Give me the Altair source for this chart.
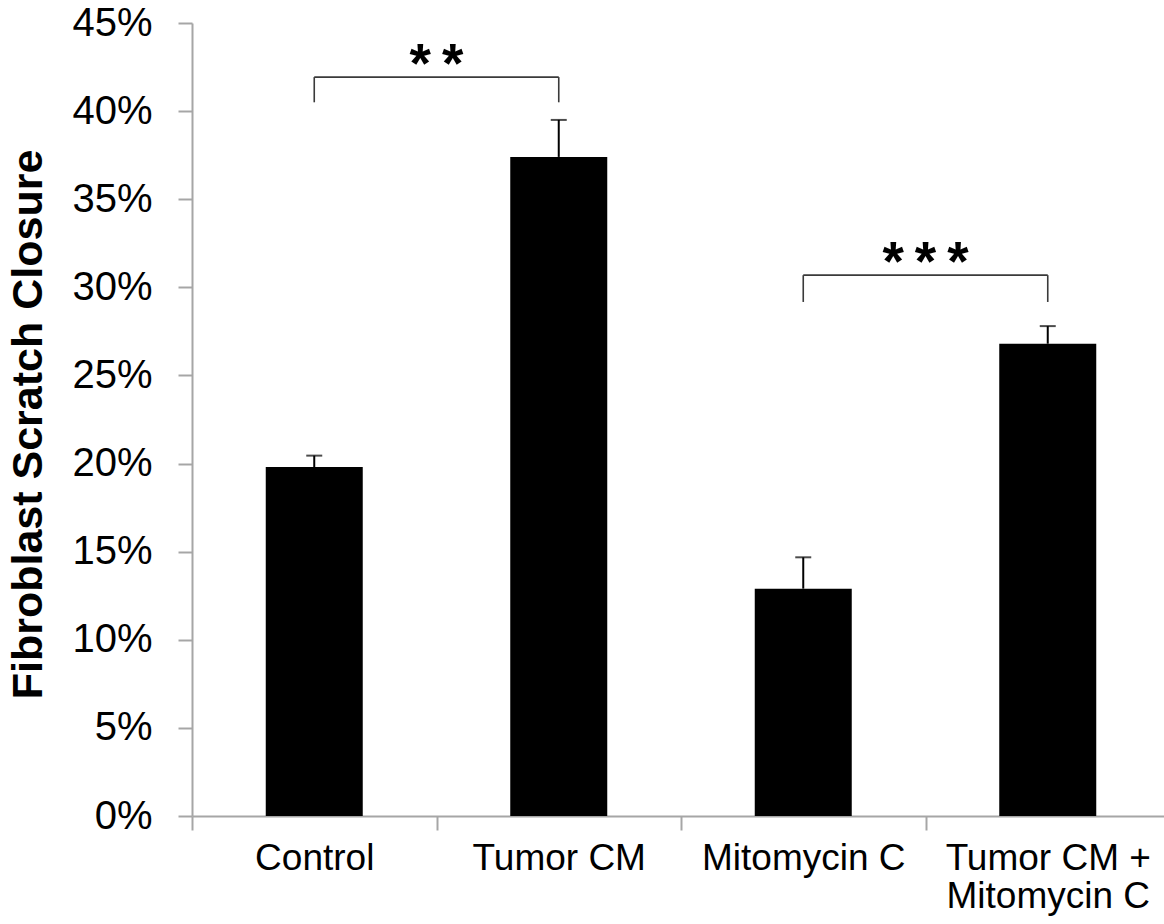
import altair as alt
import pandas as pd

# ---- data ----
categories = ["Control", "Tumor CM", "Mitomycin C", "Tumor CM +|Mitomycin C"]
means = [0.198, 0.374, 0.129, 0.268]
upper = [0.2045, 0.395, 0.1468, 0.278]

y_ticks = [0, 0.05, 0.10, 0.15, 0.20, 0.25, 0.30, 0.35, 0.40, 0.45]

sig_left = ["Control", "Mitomycin C"]
sig_right = ["Tumor CM", "Tumor CM +|Mitomycin C"]
sig_top = [0.4193, 0.3069]
sig_bottom = [0.405, 0.2917]
sig_stars = ["*\u2009*", "*\u2009*\u2009*"]
sig_star_y = [0.4163, 0.3039]

# ---- layout constants ----
X_RANGE = 978
step = X_RANGE / len(categories)
FONT = "Liberation Sans"
AXIS_GRAY = "#a6a6a6"

df = pd.DataFrame({"cat": categories, "mean": means, "upper": upper})
br = pd.DataFrame({"left": sig_left, "right": sig_right, "top": sig_top,
                   "bottom": sig_bottom, "stars": sig_stars, "sy": sig_star_y})
ends = pd.DataFrame({
    "xe": sig_left + sig_right,
    "top": sig_top + sig_top,
    "bottom": sig_bottom + sig_bottom,
})

xscale = alt.Scale(domain=categories, range=[0, X_RANGE], paddingInner=0, paddingOuter=0)
yscale = alt.Scale(domain=[0, 0.45], nice=False, zero=True)

x_axis = alt.Axis(
    title=None, labelExpr="datum.value ? split(datum.value, '|') : ''",
    tickBand="extent", labelAngle=0, labelLimit=400,
    labelFontSize=37, labelFont=FONT, labelColor="black", labelLineHeight=38,
    tickSize=14, tickColor=AXIS_GRAY, tickWidth=2, domainColor=AXIS_GRAY, domainWidth=2,
    labelPadding=10, grid=False,
)
y_axis = alt.Axis(
    values=y_ticks, format=".0%", grid=False,
    title="Fibroblast Scratch Closure", titleFont=FONT, titleFontSize=43, titleFontWeight="bold",
    titleColor="black", titleX=-164, titleY=401, titleAngle=-90, titleAlign="center",
    titleBaseline="middle",
    labelFont=FONT, labelFontSize=40, labelColor="black", labelPadding=26,
    tickSize=14, tickColor=AXIS_GRAY, tickWidth=2, domainColor=AXIS_GRAY, domainWidth=2,
)


def X(field):
    return alt.X(field, scale=xscale, axis=x_axis)


def Y(field):
    return alt.Y(field, scale=yscale, axis=y_axis)


bars = alt.Chart(df).mark_bar(color="black", size=97).encode(x=X("cat:N"), y=Y("mean:Q"))
err = alt.Chart(df).mark_rule(color="black", strokeWidth=2).encode(
    x=X("cat:N"), y=Y("mean:Q"), y2="upper:Q",
)
cap = alt.Chart(df).mark_tick(color="black", size=16, thickness=2).encode(
    x=X("cat:N"), y=Y("upper:Q"),
)
hbr = alt.Chart(br).mark_rule(color="#3a3a3a", strokeWidth=1.6).encode(
    x=X("left:N"), x2="right:N", y=Y("top:Q"),
)
vbr = alt.Chart(ends).mark_rule(color="#3a3a3a", strokeWidth=1.6).encode(
    x=X("xe:N"), y=Y("bottom:Q"), y2="top:Q",
)
stars = alt.Chart(br).mark_text(
    font=FONT, fontSize=55, fontWeight="bold", color="black",
    align="center", baseline="alphabetic", dx=step / 2,
).encode(x=X("left:N"), y=Y("sy:Q"), text="stars:N")

chart = alt.layer(bars, err, cap, hbr, vbr, stars).properties(
    width=972, height=793,
    padding={"left": 192, "top": 23, "right": 0, "bottom": 108},
    autosize=alt.AutoSizeParams(type="none"),
    background="white",
).configure_view(stroke=None)

chart.save("out.html", embed_options={"renderer": "svg", "actions": False})
